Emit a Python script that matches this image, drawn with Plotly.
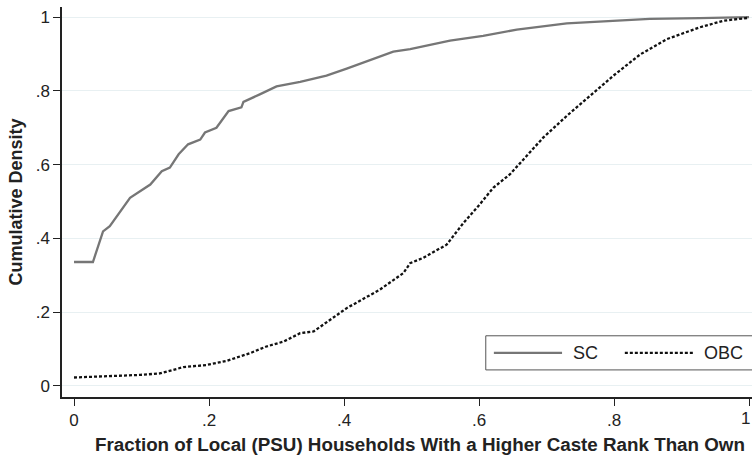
import plotly.graph_objects as go

# SC cumulative distribution
sc_x = [0.0, 0.028, 0.043, 0.053, 0.083, 0.098, 0.113, 0.130, 0.142, 0.155, 0.169,
        0.187, 0.194, 0.211, 0.229, 0.248, 0.251, 0.276, 0.300, 0.335, 0.374, 0.404,
        0.443, 0.473, 0.498, 0.557, 0.606, 0.656, 0.730, 0.804, 0.853, 0.927, 1.0]
sc_y = [0.336, 0.336, 0.419, 0.433, 0.510, 0.528, 0.546, 0.582, 0.592, 0.628, 0.655,
        0.668, 0.687, 0.700, 0.745, 0.755, 0.770, 0.791, 0.812, 0.824, 0.841, 0.860,
        0.886, 0.906, 0.913, 0.936, 0.949, 0.966, 0.983, 0.991, 0.995, 0.997, 1.0]

# OBC cumulative distribution
obc_x = [0.0, 0.039, 0.098, 0.127, 0.162, 0.197, 0.226, 0.261, 0.285, 0.310, 0.335,
         0.355, 0.404, 0.453, 0.488, 0.498, 0.517, 0.552, 0.577, 0.601, 0.621, 0.646,
         0.666, 0.695, 0.730, 0.769, 0.799, 0.839, 0.878, 0.927, 0.962, 1.0]
obc_y = [0.023, 0.025, 0.030, 0.034, 0.051, 0.057, 0.068, 0.089, 0.107, 0.120, 0.143,
         0.148, 0.211, 0.261, 0.306, 0.333, 0.347, 0.383, 0.442, 0.492, 0.537, 0.574,
         0.614, 0.673, 0.732, 0.795, 0.841, 0.899, 0.940, 0.972, 0.990, 0.998]

tick_vals = [0, 0.2, 0.4, 0.6, 0.8, 1]
tick_text = ["0", ".2", ".4", ".6", ".8", "1"]
legend_labels = ["SC", "OBC"]
x_title = "Fraction of Local (PSU) Households With a Higher Caste Rank Than Own"
y_title = "Cumulative Density"

FONT = "Liberation Sans, Arial, Helvetica, sans-serif"
SC_COLOR = "#767676"
OBC_COLOR = "#111111"
OBC_DASH = "3px,2px"
LW = 2.3

fig = go.Figure()
fig.add_trace(go.Scatter(x=sc_x, y=sc_y, mode="lines", name=legend_labels[0],
                         line=dict(color=SC_COLOR, width=LW)))
fig.add_trace(go.Scatter(x=obc_x, y=obc_y, mode="lines", name=legend_labels[1],
                         line=dict(color=OBC_COLOR, width=LW, dash=OBC_DASH)))

# Stata-style legend box (inside plot, clipped at the right edge)
fig.add_shape(type="rect", xref="x", yref="y", x0=0.610, x1=1.05, y0=0.0435, y1=0.136,
              line=dict(color="#555555", width=1), fillcolor="white", layer="above")
fig.add_shape(type="line", xref="x", yref="y", x0=0.622, x1=0.723, y0=0.0897, y1=0.0897,
              line=dict(color=SC_COLOR, width=LW), layer="above")
fig.add_shape(type="line", xref="x", yref="y", x0=0.816, x1=0.917, y0=0.0897, y1=0.0897,
              line=dict(color=OBC_COLOR, width=LW, dash=OBC_DASH), layer="above")
fig.add_annotation(x=0.736, y=0.0897, xref="x", yref="y", text=legend_labels[0],
                   showarrow=False, xanchor="left", yanchor="middle",
                   font=dict(size=18, family=FONT, color="#222"))
fig.add_annotation(x=0.930, y=0.0897, xref="x", yref="y", text=legend_labels[1],
                   showarrow=False, xanchor="left", yanchor="middle",
                   font=dict(size=18, family=FONT, color="#222"))
# last x tick label sits at the page edge (plotly drops it), so place it as text
fig.add_annotation(x=1.0, y=-0.054, xref="paper", yref="paper", text=tick_text[-1],
                   showarrow=False, xanchor="right", yanchor="middle",
                   font=dict(size=17, family=FONT, color="#222"))
# x-axis title (centred over the original, wider plot region)
fig.add_annotation(x=0.519, y=-0.123, xref="paper", yref="paper",
                   text="<b>" + x_title + "</b>",
                   showarrow=False, xanchor="center", yanchor="middle",
                   font=dict(size=18.8, family=FONT, color="#222"))

fig.update_layout(
    width=752, height=457,
    margin=dict(l=62, r=0, t=7, b=60),
    paper_bgcolor="white", plot_bgcolor="white",
    font=dict(family=FONT, size=17, color="#222"),
    showlegend=False,
    xaxis=dict(range=[-0.0178, 1.0044], tickvals=tick_vals, ticktext=tick_text,
               showgrid=False, zeroline=False, showline=True, linecolor="#222",
               linewidth=1.5, ticks="outside", ticklen=7, tickcolor="#222",
               tickfont=dict(size=17)),
    yaxis=dict(range=[-0.0299, 1.0272], tickvals=tick_vals, ticktext=tick_text,
               showgrid=True, gridcolor="#e8f0f2", gridwidth=1, zeroline=False,
               showline=True, linecolor="#222", linewidth=1.5, ticks="outside",
               ticklen=7, tickcolor="#222",
               title=dict(text="<b>" + y_title + "</b>",
                          font=dict(size=18, family=FONT), standoff=8),
               tickfont=dict(size=17)),
)

fig.write_html("out.html")
